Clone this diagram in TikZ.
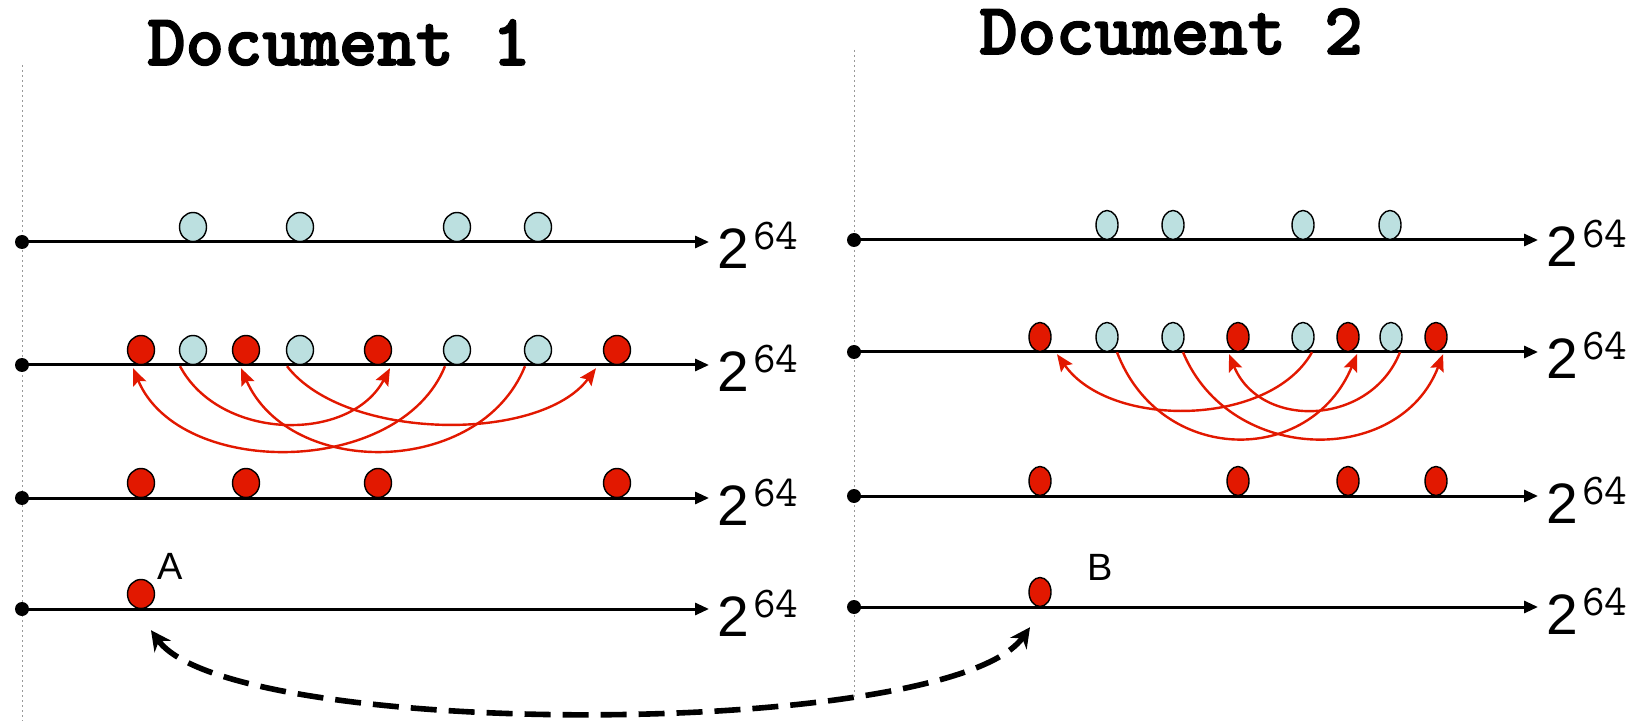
\documentclass[tikz,border=0pt]{standalone}
\usepackage{fontspec}
\newfontfamily\sansf{Liberation Sans}
\newfontfamily\titlef{lmmonolt10-bold.otf}[FakeBold=2.2]
\usetikzlibrary{shapes.geometric,arrows.meta,calc}
\definecolor{nred}{RGB}{226,24,0}
\definecolor{nblue}{RGB}{188,224,224}
\newcommand{\powlabel}{\sansf\fontsize{28.5}{30}\selectfont 2\hspace{2pt}\raisebox{9.5pt}{\ttfamily\fontsize{22}{22}\selectfont 64}}
\tikzset{
  lball/.style={ellipse, draw=black, line width=0.7pt, minimum width=13.5pt, minimum height=14.5pt, inner sep=0pt},
  rball/.style={lball, minimum width=11pt},
  redb/.style={fill=nred},
  blueb/.style={fill=nblue},
  axisdot/.style={circle, fill=black, minimum size=7pt, inner sep=0pt},
  axisline/.style={line width=1.5pt, -{Triangle[length=7pt,width=6pt]}},
  redarc/.style={nred, line width=1.2pt, -{Stealth[length=8.5pt,width=7pt,inset=1.5pt]}},
  guide/.style={gray!80, line width=0.5pt, dash pattern=on 1pt off 1.5pt},
  swaparrow/.style={line width=2.8pt, dash pattern=on 13pt off 6pt, {Stealth[length=10pt,width=10pt]}-{Stealth[length=10pt,width=10pt]}},
  powlbl/.style={anchor=base west, inner sep=0pt},
  title/.style={anchor=base, inner sep=0pt, font=\titlef\fontsize{36.5}{36.5}\selectfont},
  letter/.style={anchor=base west, inner sep=0pt, font=\sansf\fontsize{19}{20}\selectfont}
}
\begin{document}
\begin{tikzpicture}[x=0.5pt,y=-0.5pt]
\useasboundingbox (0,0) rectangle (1637,721);

% titles
\node[title] (t1) at (339,65) {Document 1};
\node[title] (t2) at (1171,54) {Document 2};

% guides
\coordinate (g1a) at (22,65);
\coordinate (g1b) at (22,721);
\coordinate (g2a) at (854,50);
\coordinate (g2b) at (854,700);
\draw[guide] (g1a) -- (g1b);
\draw[guide] (g2a) -- (g2b);

% axes left
\foreach \r/\yy in {1/242,2/365,3/498,4/609}{
  \node[axisdot] (ld\r) at (22,\yy) {};
  \coordinate (lt\r) at (709,\yy);
  \draw[axisline] (ld\r.center) -- (lt\r);
  \node[powlbl] (lp\r) at ($(lt\r)+(8,27)$) {\powlabel};
}
% axes right
\foreach \r/\yy in {1/240,2/352,3/496,4/607}{
  \node[axisdot] (rd\r) at (854,\yy) {};
  \coordinate (rt\r) at (1538,\yy);
  \draw[axisline] (rd\r.center) -- (rt\r);
  \node[powlbl] (rp\r) at ($(rt\r)+(8,27)$) {\powlabel};
}

% left row 1
\node[lball,blueb] (la1) at (193,227) {};
\node[lball,blueb] (la2) at (300,227) {};
\node[lball,blueb] (la3) at (457,227) {};
\node[lball,blueb] (la4) at (538,227) {};
% left row 2
\node[lball,redb]  (lr1) at (141,350) {};
\node[lball,blueb] (lb2) at (193,350) {};
\node[lball,redb]  (lr2) at (246,350) {};
\node[lball,blueb] (lb4) at (300,350) {};
\node[lball,redb]  (lr3) at (378,350) {};
\node[lball,blueb] (lb6) at (457,350) {};
\node[lball,blueb] (lb7) at (538,350) {};
\node[lball,redb]  (lr8) at (617,350) {};
% left row 3
\node[lball,redb] (lc1) at (141,483) {};
\node[lball,redb] (lc2) at (246,483) {};
\node[lball,redb] (lc3) at (378,483) {};
\node[lball,redb] (lc4) at (617,483) {};
% left row 4
\node[lball,redb] (lA) at (141,594) {};
\node[letter] (labA) at (157,579) {A};

% right row 1
\node[rball,blueb] (ra1) at (1107,225) {};
\node[rball,blueb] (ra2) at (1173,225) {};
\node[rball,blueb] (ra3) at (1303,225) {};
\node[rball,blueb] (ra4) at (1390,225) {};
% right row 2
\node[rball,redb]  (rr1) at (1040,337) {};
\node[rball,blueb] (rb2) at (1107,337) {};
\node[rball,blueb] (rb3) at (1173,337) {};
\node[rball,redb]  (rr4) at (1238,337) {};
\node[rball,blueb] (rb5) at (1303,337) {};
\node[rball,redb]  (rr6) at (1348,337) {};
\node[rball,blueb] (rb7) at (1391,337) {};
\node[rball,redb]  (rr8) at (1436,337) {};
% right row 3
\node[rball,redb] (rc1) at (1040,481) {};
\node[rball,redb] (rc2) at (1238,481) {};
\node[rball,redb] (rc3) at (1348,481) {};
\node[rball,redb] (rc4) at (1436,481) {};
% right row 4
\node[rball,redb] (rB) at (1040,592) {};
\node[letter] (labB) at (1087,580) {B};

% left arcs
\draw[redarc] ($(lb2.south)+(-13,1)$) .. controls +(40,75) and +(-40,75) .. ($(lr3.south)+(12,3)$);
\draw[redarc] ($(lb4.south)+(-13,1)$) .. controls +(58,75) and +(-56,75) .. ($(lr8.south)+(-21,3)$);
\draw[redarc] ($(lb6.south)+(-12,1)$) .. controls +(-45,111) and +(47,111) .. ($(lr1.south)+(-8,3)$);
\draw[redarc] ($(lb7.south)+(-13,1)$) .. controls +(-45,111) and +(49,111) .. ($(lr2.south)+(-5,3)$);

% right arcs
\draw[redarc] ($(rb5.south)+(9,0)$) .. controls +(-42,75) and +(53,75) .. ($(rr1.south)+(17,2)$);
\draw[redarc] ($(rb2.south)+(10,0)$) .. controls +(43,113) and +(-47,113) .. ($(rr6.south)+(9,2)$);
\draw[redarc] ($(rb3.south)+(10,0)$) .. controls +(47,113) and +(-43,113) .. ($(rr8.south)+(7,2)$);
\draw[redarc] ($(rb7.south)+(9,0)$) .. controls +(-30,75) and +(31,75) .. ($(rr4.south)+(-9,2)$);

% swap arrow
\draw[swaparrow] ($(lA.south)+(10,21)$) .. controls +(79,110) and +(-80,113) .. ($(rB.south)+(-10,20)$);
\end{tikzpicture}
\end{document}
